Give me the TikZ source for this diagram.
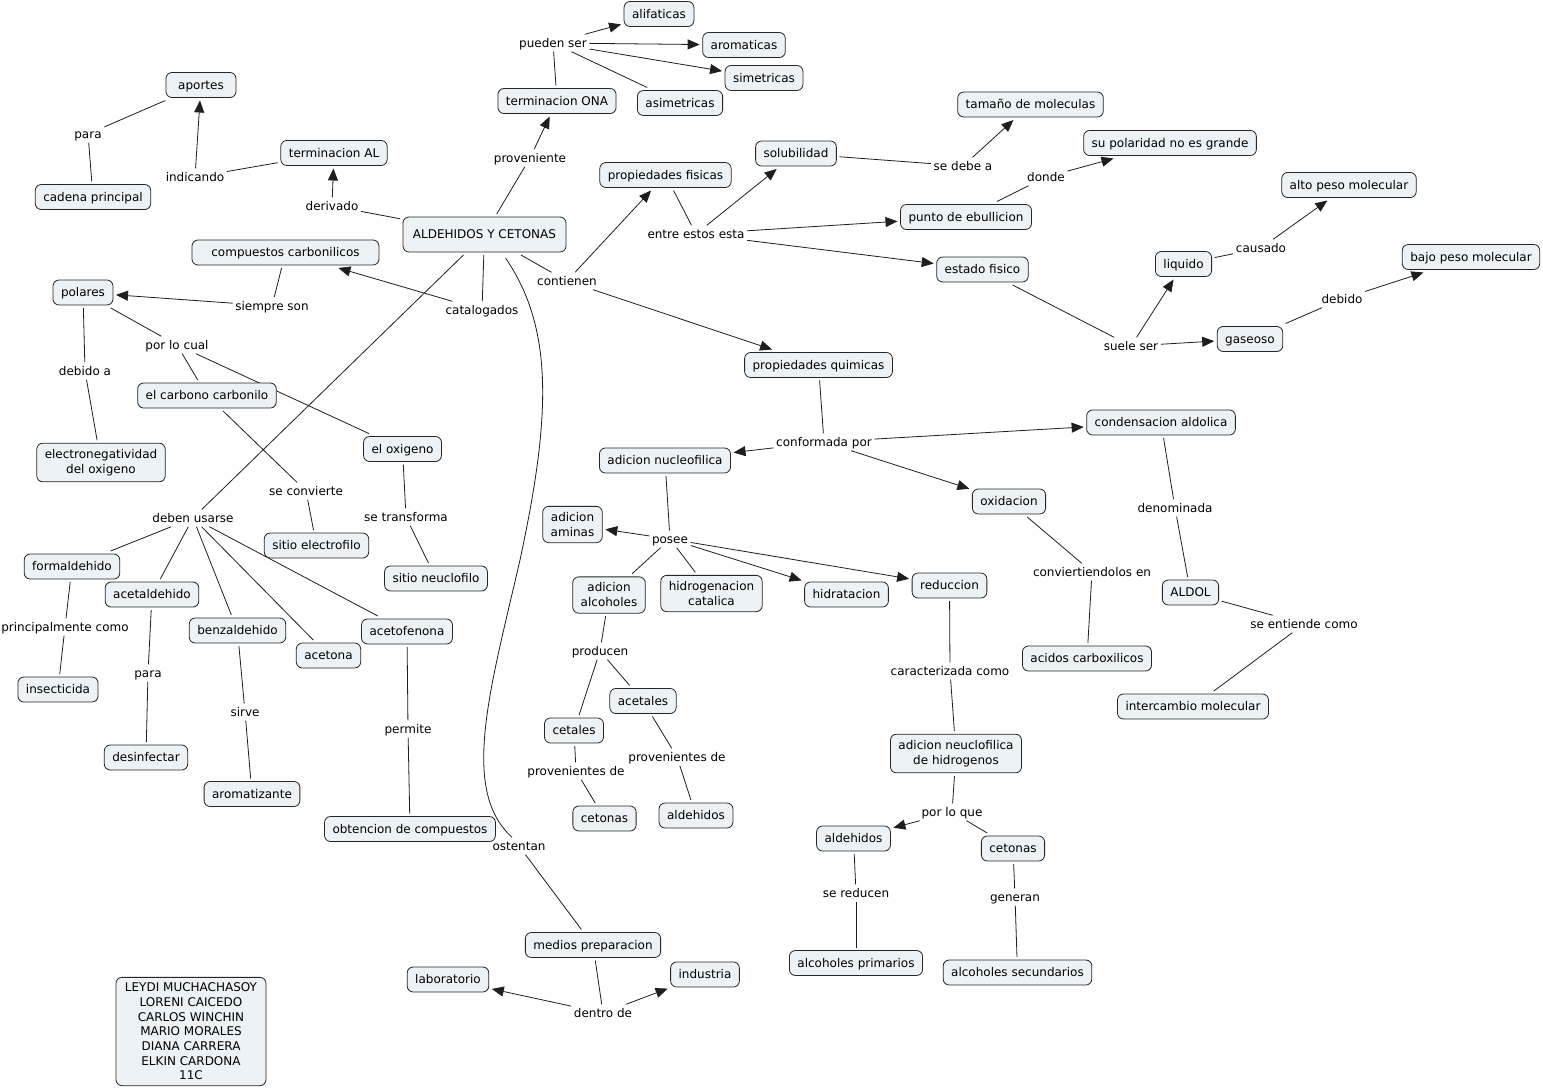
\documentclass[tikz,border=0pt]{standalone}
\usepackage{fontspec}
\setmainfont{DejaVu Sans}
\usetikzlibrary{arrows.meta}
\definecolor{cfill}{RGB}{236,242,245}
\definecolor{cline}{RGB}{30,30,30}
\pgfdeclarelayer{bg}
\pgfsetlayers{bg,main}
\begin{document}
\begin{tikzpicture}[x=1pt,y=-1pt,
  every node/.style={font=\fontsize{12}{15}\selectfont},
  cn/.style={draw=black!85, fill=cfill, rounded corners=6pt, line width=0.8pt,
    inner xsep=8pt, inner ysep=6.5pt, text height=10pt, text depth=2pt, outer sep=3pt},
  cn2/.style={draw=black!85, fill=cfill, rounded corners=6pt, line width=0.8pt,
    inner xsep=8pt, inner ysep=6pt, align=center, outer sep=3pt},
  lk/.style={inner sep=2.5pt, text height=10pt, text depth=2pt},
  ln/.style={draw=cline, line width=0.8pt},
  ar/.style={ln, -{Triangle[length=12pt,width=10pt]}}
]
\useasboundingbox (0,0) rectangle (1543,1090);

% ---------- concepts ----------
\node[cn, minimum width=163pt, minimum height=35pt] (ald) at (484.5,234.5) {ALDEHIDOS Y CETONAS};
\node[cn] (alif) at (659,14) {alifaticas};
\node[cn] (arom) at (744,45) {aromaticas};
\node[cn] (sime) at (764,78) {simetricas};
\node[cn] (asim) at (680,103) {asimetricas};
\node[cn] (ona) at (557,101) {terminacion ONA};
\node[cn, minimum width=70pt] (aport) at (201,85) {aportes};
\node[cn] (tal) at (334,153) {terminacion AL};
\node[cn] (cad) at (93,197) {cadena principal};
\node[cn, minimum width=187pt] (comp) at (285.5,252.5) {compuestos carbonilicos};
\node[cn] (pol) at (83,292.5) {polares};
\node[cn] (pfis) at (665.5,175) {propiedades fisicas};
\node[cn] (sol) at (796,153.5) {solubilidad};
\node[cn] (tam) at (1030.5,104.5) {tamaño de moleculas};
\node[cn] (spol) at (1170,143) {su polaridad no es grande};
\node[cn] (peb) at (966,217) {punto de ebullicion};
\node[cn] (alto) at (1349,185) {alto peso molecular};
\node[cn] (est) at (982.5,269.5) {estado fisico};
\node[cn] (liq) at (1183.5,264) {liquido};
\node[cn] (bajo) at (1471,257) {bajo peso molecular};
\node[cn] (gas) at (1250,339) {gaseoso};
\node[cn] (pq) at (818.5,365) {propiedades quimicas};
\node[cn] (carb) at (207,395.5) {el carbono carbonilo};
\node[cn2] (elec) at (101,462.5) {electronegatividad\\del oxigeno};
\node[cn] (oxi) at (402.5,449) {el oxigeno};
\node[cn] (cond) at (1161,422.5) {condensacion aldolica};
\node[cn] (anuc) at (665,460.5) {adicion nucleofilica};
\node[cn] (oxid) at (1009,501.5) {oxidacion};
\node[cn2] (amin) at (572.5,524.5) {adicion\\aminas};
\node[cn] (selec) at (316.5,545.5) {sitio electrofilo};
\node[cn] (sneu) at (436,578.5) {sitio neuclofilo};
\node[cn] (form) at (72,566.5) {formaldehido};
\node[cn2] (aalc) at (609,595) {adicion\\alcoholes};
\node[cn2] (hidr) at (711.5,593.5) {hidrogenacion\\catalica};
\node[cn] (hidt) at (846.5,594.5) {hidratacion};
\node[cn] (red) at (949.5,585.5) {reduccion};
\node[cn] (aldol) at (1190.5,592.5) {ALDOL};
\node[cn] (acet) at (152,594.5) {acetaldehido};
\node[cn] (benz) at (237.5,630.5) {benzaldehido};
\node[cn] (acf) at (407,631.5) {acetofenona};
\node[cn] (acetn) at (328.5,655.5) {acetona};
\node[cn] (acid) at (1087,658.5) {acidos carboxilicos};
\node[cn] (insec) at (58,689.5) {insecticida};
\node[cn] (acetl) at (643,701) {acetales};
\node[cn] (inter) at (1193,706.5) {intercambio molecular};
\node[cn] (cetl) at (574,730.5) {cetales};
\node[cn] (desin) at (146,757.5) {desinfectar};
\node[cn2] (anh) at (956,753.5) {adicion neuclofilica\\de hidrogenos};
\node[cn] (arz) at (252,794) {aromatizante};
\node[cn] (ald1) at (696,815.5) {aldehidos};
\node[cn] (cet1) at (604.5,818.5) {cetonas};
\node[cn] (obt) at (410,829) {obtencion de compuestos};
\node[cn] (ald2) at (853.5,838.5) {aldehidos};
\node[cn] (cet2) at (1013,848.5) {cetonas};
\node[cn] (med) at (593,945) {medios preparacion};
\node[cn] (aprim) at (856,963) {alcoholes primarios};
\node[cn] (asec) at (1017.5,972.5) {alcoholes secundarios};
\node[cn] (lab) at (448,979.5) {laboratorio};
\node[cn] (ind) at (705,974.5) {industria};
\node[cn2, font=\fontsize{12}{14.7}\selectfont, inner ysep=5.5pt, minimum width=150pt] (names) at (191,1031.5)
  {LEYDI MUCHACHASOY\\LORENI CAICEDO\\CARLOS WINCHIN\\MARIO MORALES\\DIANA CARRERA\\ELKIN CARDONA\\11C};

% ---------- linking phrases ----------
\node[lk] (pser) at (553,43) {pueden ser};
\node[lk] (prov) at (530,158) {proveniente};
\node[lk] (deriv) at (332,206) {derivado};
\node[lk] (indic) at (195,177) {indicando};
\node[lk] (para1) at (88,134) {para};
\node[lk] (catal) at (482,310) {catalogados};
\node[lk] (sson) at (272,306) {siempre son};
\node[lk] (cont) at (567,281) {contienen};
\node[lk] (entre) at (696,234) {entre estos esta};
\node[lk] (sdeb) at (963,166) {se debe a};
\node[lk] (donde) at (1046,177) {donde};
\node[lk] (caus) at (1261,248) {causado};
\node[lk] (debi) at (1342,299) {debido};
\node[lk] (suel) at (1131,346) {suele ser};
\node[lk] (plc) at (177,345) {por lo cual};
\node[lk] (deba) at (85,371) {debido a};
\node[lk] (conf) at (824,442) {conformada por};
\node[lk] (scon) at (306,491) {se convierte};
\node[lk] (stra) at (406,517) {se transforma};
\node[lk] (deben) at (193,518) {deben usarse};
\node[lk] (denom) at (1175,508) {denominada};
\node[lk] (posee) at (670,539) {posee};
\node[lk] (convi) at (1092,572) {conviertiendolos en};
\node[lk] (princ) at (65,627) {principalmente como};
\node[lk] (sent) at (1304,624) {se entiende como};
\node[lk] (para2) at (148,673) {para};
\node[lk] (produ) at (600,651) {producen};
\node[lk] (sirve) at (245,712) {sirve};
\node[lk] (perm) at (408,729) {permite};
\node[lk] (carac) at (950,671) {caracterizada como};
\node[lk] (provA) at (677,757) {provenientes de};
\node[lk] (provB) at (576,771) {provenientes de};
\node[lk] (plq) at (952,812) {por lo que};
\node[lk] (ost) at (519,846) {ostentan};
\node[lk] (sred) at (856,893) {se reducen};
\node[lk] (gene) at (1015,897) {generan};
\node[lk] (dentro) at (603,1013) {dentro de};

% ---------- connectors ----------
\begin{pgfonlayer}{bg}
\fill[white] (0,0) rectangle (1543,1090);
\draw[ln] (ald) -- (prov);  \draw[ar] (prov) -- (ona);
\draw[ln] (ona) -- (pser);
\draw[ar] (pser) -- (alif); \draw[ar] (pser) -- (arom); \draw[ar] (pser) -- (sime); \draw[ln] (pser) -- (asim);
\draw[ln] (ald) -- (deriv); \draw[ar] (deriv) -- (tal);
\draw[ln] (tal) -- (indic); \draw[ar] (indic) -- (aport);
\draw[ln] (cad) -- (para1); \draw[ln] (para1) -- (aport);
\draw[ln] (ald) -- (catal); \draw[ar] (catal) -- (comp);
\draw[ln] (comp) -- (sson); \draw[ar] (sson) -- (pol);
\draw[ln] (ald) -- (cont); \draw[ar] (cont) -- (pfis); \draw[ar] (cont) -- (pq);
\draw[ln] (pfis) -- (entre);
\draw[ar] (entre) -- (sol); \draw[ar] (entre) -- (peb); \draw[ar] (entre) -- (est);
\draw[ln] (sol) -- (sdeb); \draw[ar] (sdeb) -- (tam);
\draw[ln] (peb) -- (donde); \draw[ar] (donde) -- (spol);
\draw[ln] (est) -- (suel); \draw[ar] (suel) -- (liq); \draw[ar] (suel) -- (gas);
\draw[ln] (liq) -- (caus); \draw[ar] (caus) -- (alto);
\draw[ln] (gas) -- (debi); \draw[ar] (debi) -- (bajo);
\draw[ln] (pq) -- (conf);
\draw[ar] (conf) -- (anuc); \draw[ar] (conf) -- (cond); \draw[ar] (conf) -- (oxid);
\draw[ln] (cond) -- (denom); \draw[ln] (denom) -- (aldol);
\draw[ln] (aldol) -- (sent); \draw[ln] (sent) -- (inter);
\draw[ln] (oxid) -- (convi); \draw[ln] (convi) -- (acid);
\draw[ln] (anuc) -- (posee);
\draw[ar] (posee) -- (amin); \draw[ln] (posee) -- (aalc); \draw[ln] (posee) -- (hidr);
\draw[ar] (posee) -- (hidt); \draw[ar] (posee) -- (red);
\draw[ln] (aalc) -- (produ); \draw[ln] (produ) -- (cetl); \draw[ln] (produ) -- (acetl);
\draw[ln] (acetl) -- (provA); \draw[ln] (provA) -- (ald1);
\draw[ln] (cetl) -- (provB); \draw[ln] (provB) -- (cet1);
\draw[ln] (red) -- (carac); \draw[ln] (carac) -- (anh);
\draw[ln] (anh) -- (plq); \draw[ar] (plq) -- (ald2); \draw[ln] (plq) -- (cet2);
\draw[ln] (ald2) -- (sred); \draw[ln] (sred) -- (aprim);
\draw[ln] (cet2) -- (gene); \draw[ln] (gene) -- (asec);
\draw[ln] (ald) -- (deben);
\draw[ln] (deben) -- (form); \draw[ln] (deben) -- (acet); \draw[ln] (deben) -- (benz);
\draw[ln] (deben) -- (acetn); \draw[ln] (deben) -- (acf);
\draw[ln] (form) -- (princ); \draw[ln] (princ) -- (insec);
\draw[ln] (acet) -- (para2); \draw[ln] (para2) -- (desin);
\draw[ln] (benz) -- (sirve); \draw[ln] (sirve) -- (arz);
\draw[ln] (acf) -- (perm); \draw[ln] (perm) -- (obt);
\draw[ln] ([xshift=21pt,yshift=-3pt]ald.south) .. controls (555,330) and (550,420) .. (520,560)
   .. controls (490,690) and (460,790) .. ([xshift=-7pt]ost.north);
\draw[ln] (ost) -- (med);
\draw[ln] (med) -- (dentro); \draw[ar] (dentro) -- (lab); \draw[ar] (dentro) -- (ind);
\draw[ln] (pol) -- (deba); \draw[ln] (deba) -- (elec);
\draw[ln] (pol) -- (plc); \draw[ln] (plc) -- (carb); \draw[ln] (plc) -- (oxi);
\draw[ln] (carb) -- (scon); \draw[ln] (scon) -- (selec);
\draw[ln] (oxi) -- (stra); \draw[ln] (stra) -- (sneu);
\end{pgfonlayer}
\end{tikzpicture}
\end{document}
